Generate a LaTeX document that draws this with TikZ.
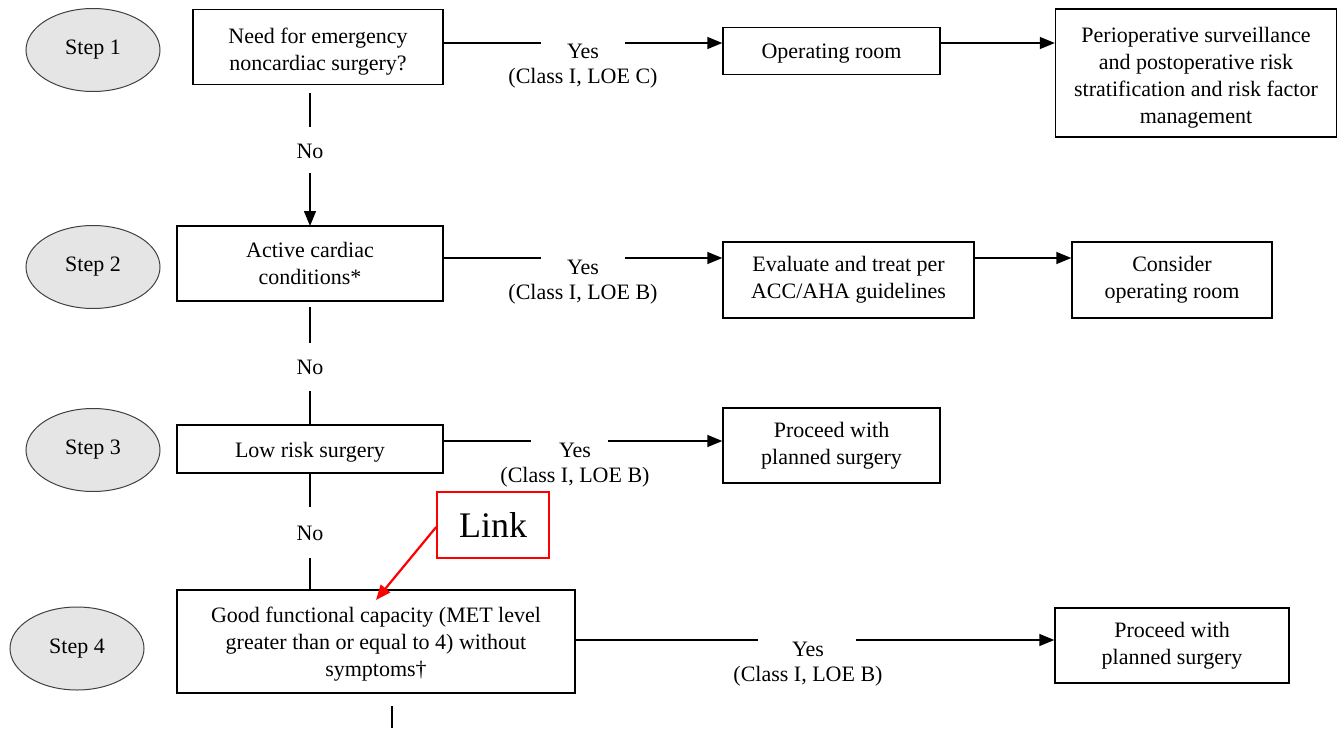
\documentclass[tikz,border=0pt]{standalone}
\usepackage{fontspec}
\setmainfont{Liberation Serif}
\usetikzlibrary{arrows.meta,shapes.geometric,calc}
\begin{document}
\begin{tikzpicture}[x=1pt,y=-1pt,
  txt/.style={font=\fontsize{22}{27}\selectfont},
  box/.style={txt,draw=black,line width=1.4pt,rectangle,align=center,inner sep=0pt},
  boxtext/.style={txt,align=center,inner sep=0pt},
  stepnode/.style={txt,ellipse,draw=black!75,fill=black!10,line width=1pt,minimum width=134pt,minimum height=83pt,inner sep=0pt},
  lbl/.style={txt,inner sep=0pt},
  conn/.style={line width=1.4pt},
  arr/.style={conn,-{Triangle[length=15pt,width=12pt]}},
  linkbox/.style={draw=red,line width=1.6pt,rectangle,minimum width=112pt,minimum height=66pt,inner sep=0pt,font=\fontsize{36}{40}\selectfont},
  linkarr/.style={draw=red,line width=2.2pt,-{Triangle[length=15pt,width=12pt]}},
]
\useasboundingbox (0,0) rectangle (1338,728);

% step ellipses
\node[stepnode] (s1) at (93,50) {Step 1};
\node[stepnode] (s2) at (93,267) {Step 2};
\node[stepnode] (s3) at (93,450) {Step 3};
\node[stepnode] (s4) at (77,648.5) {Step 4};

% main boxes
\node[box,minimum width=250pt,minimum height=75pt] (b1) at (318,47) {};
\node[boxtext] (b1t) at ($(b1.center)+(0,5)$) {Need for emergency\\noncardiac surgery?};
\node[box,minimum width=217pt,minimum height=47pt] (or) at (831.5,51) {};
\node[boxtext] (ort) at ($(or.center)+(0,3)$) {Operating room};
\node[box,minimum width=281pt,minimum height=128pt] (peri) at (1196,73) {};
\node[boxtext] (perit) at ($(peri.center)+(0,5)$) {Perioperative surveillance\\and postoperative risk\\stratification and risk factor\\management};

\node[box,minimum width=266pt,minimum height=75pt] (b2) at (310,263.5) {Active cardiac\\conditions*};
\node[box,minimum width=251pt,minimum height=76pt] (ev) at (848.5,280) {Evaluate and treat per\\ACC/AHA guidelines};
\node[box,minimum width=200pt,minimum height=76pt] (co) at (1172,280) {Consider\\operating room};

\node[box,minimum width=266pt,minimum height=48pt] (b3) at (310,449) {};
\node[boxtext] (b3t) at ($(b3.center)+(0,3)$) {Low risk surgery};
\node[box,minimum width=217pt,minimum height=75pt] (p1) at (831.5,445.5) {Proceed with\\planned surgery};

\node[box,minimum width=398pt,minimum height=103pt] (b4) at (376,641.5) {};
\node[boxtext] (b4t) at ($(b4.center)+(0,3)$) {Good functional capacity (MET level\\greater than or equal to 4) without\\symptoms\dag};
\node[box,minimum width=234pt,minimum height=75pt] (p2) at (1172,645.5) {Proceed with\\planned surgery};

% yes labels
\node[lbl] (y1) at (583,51) {Yes};
\node[lbl] (c1) at (583,78) {(Class I, LOE C)};
\node[lbl] (y2) at (583,267) {Yes};
\node[lbl] (c2) at (583,294) {(Class I, LOE B)};
\node[lbl] (y3) at (575,450) {Yes};
\node[lbl] (c3) at (575,477) {(Class I, LOE B)};
\node[lbl] (y4) at (808,649) {Yes};
\node[lbl] (c4) at (808,676) {(Class I, LOE B)};

% no labels
\node[lbl] (n1) at (310,151) {No};
\node[lbl] (n2) at (310,367) {No};
\node[lbl] (n3) at (310,533) {No};

% gap coordinates
\coordinate (g1a) at (541,43);  \coordinate (g1b) at (625,43);
\coordinate (g2a) at (541,258); \coordinate (g2b) at (625,258);
\coordinate (g3a) at (531,441); \coordinate (g3b) at (608,441);
\coordinate (g4a) at (758,640); \coordinate (g4b) at (856,640);

% horizontal connectors
\draw[conn] (b1.east|-g1a) -- (g1a);
\draw[arr] (g1b) -- (or.west|-g1b);
\draw[arr] (or.east|-g1b) -- (peri.west|-g1b);

\draw[conn] (b2.east|-g2a) -- (g2a);
\draw[arr] (g2b) -- (ev.west|-g2b);
\draw[arr] (ev.east|-g2b) -- (co.west|-g2b);

\draw[conn] (b3.east|-g3a) -- (g3a);
\draw[arr] (g3b) -- (p1.west|-g3b);

\draw[conn] (b4.east|-g4a) -- (g4a);
\draw[arr] (g4b) -- (p2.west|-g4b);

% vertical connectors
\coordinate (v1a) at (310,93);  \coordinate (v1b) at (310,127);
\coordinate (v1c) at (310,173);
\draw[conn] (v1a) -- (v1b);
\draw[arr] (v1c) -- (b2.north|-v1c) -- (310,226);

\coordinate (v2a) at (310,307); \coordinate (v2b) at (310,343);
\coordinate (v2c) at (310,391);
\draw[conn] (v2a) -- (v2b);
\draw[conn] (v2c) -- (310,425);

\coordinate (v3b) at (310,507); \coordinate (v3c) at (310,558);
\draw[conn] (310,473) -- (v3b);
\draw[conn] (v3c) -- (310,590);

\coordinate (v4a) at (392,706); \coordinate (v4b) at (392,728);
\draw[conn] (v4a) -- (v4b);

% link annotation
\node[linkbox] (link) at (493,525) {Link};
\coordinate (linktip) at (376,600);
\draw[linkarr] ($(link.west)+(0,2)$) -- (linktip);
\end{tikzpicture}
\end{document}
